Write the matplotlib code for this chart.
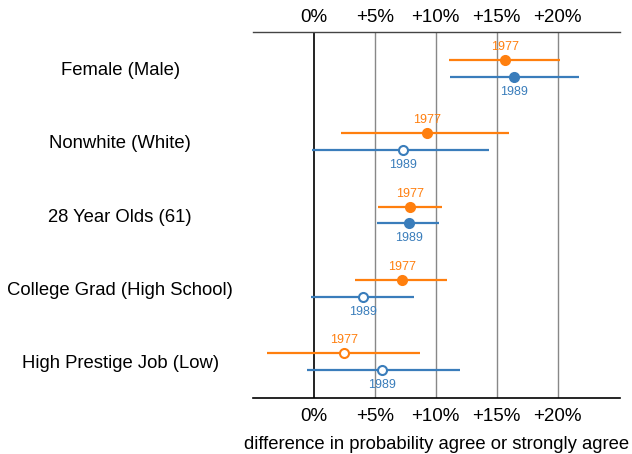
import matplotlib
matplotlib.use('Agg')
import matplotlib.pyplot as plt

plt.rcParams['font.family'] = ['Liberation Sans', 'DejaVu Sans']

# --- data ---
groups = ['Female (Male)', 'Nonwhite (White)', '28 Year Olds (61)',
          'College Grad (High School)', 'High Prestige Job (Low)']
est_1977 = [15.7, 9.3, 7.9, 7.2, 2.5]
lo_1977 = [11.1, 2.2, 5.3, 3.4, -3.8]
hi_1977 = [20.2, 16.0, 10.5, 10.9, 8.7]
sig_1977 = [True, True, True, True, False]
est_1989 = [16.4, 7.3, 7.8, 4.0, 5.6]
lo_1989 = [11.2, -0.15, 5.2, -0.25, -0.55]
hi_1989 = [21.7, 14.4, 10.3, 8.2, 12.0]
sig_1989 = [True, False, True, False, False]
xticks = [0, 5, 10, 15, 20]
xtick_labels = ['0%', '+5%', '+10%', '+15%', '+20%']

C77 = '#ff7f0e'
C89 = '#3a7dbb'

fig = plt.figure(figsize=(6.32, 4.54), dpi=100)
ax = fig.add_axes([0.4, 0.1227, 0.581, 0.8073])
ax.set_xlim(-5, 25.1)
ax.set_ylim(0, 5)

for x in xticks[1:]:
    ax.axvline(x, color='#888888', lw=1.0, zorder=0)
ax.axvline(0, color='#222222', lw=1.4, zorder=0)

n = len(groups)
off = 0.115
series = [(est_1977, lo_1977, hi_1977, sig_1977, C77, '1977', off, 13),
          (est_1989, lo_1989, hi_1989, sig_1989, C89, '1989', -off, -15)]
for est, lo, hi, sig, col, lab, dy, tdy in series:
    for i in range(n):
        y = n - 0.5 - i + dy
        ax.plot([lo[i], hi[i]], [y, y], color=col, lw=1.6, solid_capstyle='butt', zorder=2)
        ax.plot(est[i], y, 'o', ms=6.5, mec=col, mew=1.5,
                mfc=col if sig[i] else 'white', zorder=3)
        ax.annotate(lab, (est[i], y), xytext=(0, tdy), textcoords='offset pixels',
                    ha='center', va='center', fontsize=9, color=col)

ax.set_xticks(xticks)
ax.set_xticklabels(xtick_labels)
ax.tick_params(axis='x', length=0, labelsize=13.5, pad=7)

top = ax.secondary_xaxis('top')
top.set_xticks(xticks)
top.set_xticklabels(xtick_labels)
top.tick_params(axis='x', length=0, labelsize=13.5, pad=4)
top.spines['top'].set_color('#444444')
top.spines['top'].set_linewidth(1.0)

ax.set_yticks([n - 0.5 - i for i in range(n)])
ax.set_yticklabels(groups)
ax.tick_params(axis='y', length=0, labelsize=13.3, pad=95.5)
for t in ax.get_yticklabels():
    t.set_ha('center')

for s in ['left', 'right', 'top']:
    ax.spines[s].set_visible(False)
ax.spines['bottom'].set_color('black')
ax.spines['bottom'].set_linewidth(1.2)

ax.set_xlabel('difference in probability agree or strongly agree', fontsize=13.3, labelpad=8)

fig.savefig('out.png', dpi=100)
